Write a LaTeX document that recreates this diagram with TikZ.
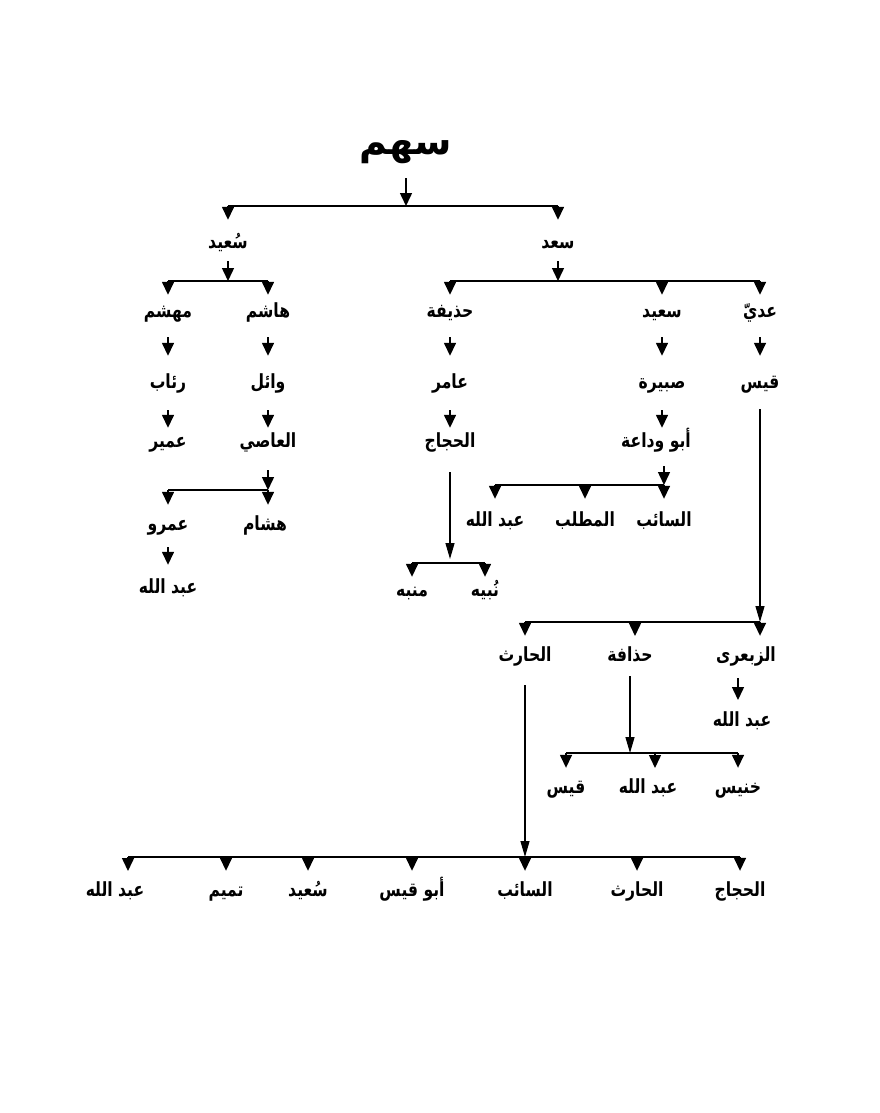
\documentclass[tikz,border=0pt]{standalone}
\usepackage{fontspec}
\usetikzlibrary{arrows.meta}
\TeXXeTstate=1
\newfontfamily\arfont[Script=Arabic,FakeStretch=0.8]{DejaVu Sans}
\newfontfamily\titlefont[Script=Arabic]{DejaVu Sans}
\newcommand\rtl[1]{\beginR#1\endR}
\begin{document}
\begin{tikzpicture}[x=1pt,y=-1pt,
 lab/.style={font=\arfont\bfseries\fontsize{19.5}{22}\selectfont, inner sep=0pt, text height=11pt, text depth=5pt},
 title/.style={font=\titlefont\bfseries\fontsize{38}{42}\selectfont, inner sep=0pt, text height=22pt, text depth=8pt},
 bar/.style={line width=1.9pt},
 tri/.style={line width=1.5pt, -{Triangle[width=12pt,length=13pt]}},
 longarr/.style={line width=1.2pt, -{Triangle[width=9pt,length=16pt]}},
]
\fill[white] (0,0) rectangle (879,1113);
\useasboundingbox (0,0) rectangle (879,1113);

% level 1
\node[title] (s0) at (406,147) {\rtl{سهم}};
\node[lab] (sa) at (228,245) {\rtl{سُعيد}};
\node[lab] (sb) at (558,245) {\rtl{سعد}};
\coordinate (yA) at (0,206);
\draw[bar] (sa.north |- yA) -- (sb.north |- yA);
\draw[tri, shorten <=16pt] (s0.south) -- (s0.south |- yA);
\draw[tri, shorten >=17pt] (sa.north |- yA) -- (sa.north);
\draw[tri, shorten >=17pt] (sb.north |- yA) -- (sb.north);

% level 3
\node[lab] (n1) at (168,314) {\rtl{مهشم}};
\node[lab] (n2) at (268,314) {\rtl{هاشم}};
\node[lab] (n3) at (450,314) {\rtl{حذيفة}};
\node[lab] (n4) at (662,314) {\rtl{سعيد}};
\node[lab] (n5) at (760,314) {\rtl{عديّ}};
\coordinate (yB) at (0,281);
\draw[bar] (n1.north |- yB) -- (n2.north |- yB);
\draw[bar] (n3.north |- yB) -- (n5.north |- yB);
\draw[tri, shorten <=8pt] (sa.south) -- (sa.south |- yB);
\draw[tri, shorten <=8pt] (sb.south) -- (sb.south |- yB);
\foreach \c in {n1,n2,n3,n4,n5}
  \draw[tri, shorten >=11pt] (\c.north |- yB) -- (\c.north);

% level 4
\node[lab] (m1) at (168,385) {\rtl{رئاب}};
\node[lab] (m2) at (268,385) {\rtl{وائل}};
\node[lab] (m3) at (450,385) {\rtl{عامر}};
\node[lab] (m4) at (662,385) {\rtl{صبيرة}};
\node[lab] (m5) at (760,385) {\rtl{قيس}};
\foreach \a/\b in {n1/m1,n2/m2,n3/m3,n4/m4,n5/m5}
  \draw[tri, shorten <=15pt, shorten >=21pt] (\a.south) -- (\b.north);

% level 5
\node[lab] (k1) at (168,444) {\rtl{عمير}};
\node[lab] (k2) at (268,444) {\rtl{العاصي}};
\node[lab] (k3) at (450,444) {\rtl{الحجاج}};
\node[lab] (k4) at (656,444) {\rtl{أبو وداعة}};
\foreach \a/\b in {m1/k1,m2/k2,m3/k3}
  \draw[tri, shorten <=17pt, shorten >=8pt] (\a.south) -- (\b.north);
\draw[tri, shorten <=17pt, shorten >=8pt] (m4.south) -- (m4.south |- k4.north);

% under al-Asi
\node[lab] (j1) at (168,527) {\rtl{عمرو}};
\node[lab] (j2) at (265,527) {\rtl{هشام}};
\node[lab] (j0) at (168,590) {\rtl{عبد الله}};
\coordinate (yC) at (0,490);
\draw[bar] (j1.north |- yC) -- (k2.south |- yC);
\draw[tri, shorten <=18pt] (k2.south) -- (k2.south |- yC);
\draw[tri, shorten >=14pt] (j1.north |- yC) -- (j1.north);
\draw[tri, shorten >=14pt] (k2.south |- yC) -- (k2.south |- j2.north);
\draw[tri, shorten <=12pt, shorten >=17pt] (j1.south) -- (j0.north);

% under Abu Wada'a
\node[lab] (d1) at (664,523) {\rtl{السائب}};
\node[lab] (d2) at (585,523) {\rtl{المطلب}};
\node[lab] (d3) at (495,523) {\rtl{عبد الله}};
\coordinate (yD) at (0,485);
\draw[bar] (d3.north |- yD) -- (d1.north |- yD);
\draw[tri, shorten <=14pt] (d1.north |- k4.south) -- (d1.north |- yD);
\foreach \c in {d1,d2,d3}
  \draw[tri, shorten >=16pt] (\c.north |- yD) -- (\c.north);

% under al-Hajjaj
\node[lab] (e1) at (412,593) {\rtl{منبه}};
\node[lab] (e2) at (485,593) {\rtl{نُبيه}};
\coordinate (yE) at (0,563);
\draw[bar] (e1.north |- yE) -- (e2.north |- yE);
\draw[longarr, shorten <=20pt, shorten >=4pt] (k3.south) -- (k3.south |- yE);
\foreach \c in {e1,e2}
  \draw[tri, shorten >=8pt] (\c.north |- yE) -- (\c.north);

% under Qays
\node[lab] (f1) at (525,658) {\rtl{الحارث}};
\node[lab] (f2) at (630,658) {\rtl{حذافة}};
\node[lab] (f3) at (746,658) {\rtl{الزبعرى}};
\coordinate (yF) at (0,622);
\draw[bar] (f1.north |- yF) -- (m5.south |- yF);
\draw[longarr, shorten <=16pt] (m5.south) -- (m5.south |- yF);
\draw[tri, shorten >=14pt] (f1.north |- yF) -- (f1.north);
\draw[tri, shorten >=14pt] (635,622) -- (635,650);
\draw[tri, shorten >=14pt] (m5.south |- yF) -- (m5.south |- f3.north);

\node[lab] (g0) at (742,723) {\rtl{عبد الله}};
\draw[tri, shorten <=12pt, shorten >=15pt] (738,666) -- (738,715);

% under Hudhafa
\node[lab] (g1) at (566,790) {\rtl{قيس}};
\node[lab] (g2) at (648,790) {\rtl{عبد الله}};
\node[lab] (g3) at (738,790) {\rtl{خنيس}};
\coordinate (yG) at (0,753);
\draw[bar] (g1.north |- yG) -- (g3.north |- yG);
\draw[longarr, shorten <=10pt] (f2.south) -- (f2.south |- yG);
\draw[tri, shorten >=14pt] (g1.north |- yG) -- (g1.north);
\draw[tri, shorten >=14pt] (655,753) -- (655,782);
\draw[tri, shorten >=14pt] (g3.north |- yG) -- (g3.north);

% under al-Harith
\node[lab] (h1) at (740,893) {\rtl{الحجاج}};
\node[lab] (h2) at (637,893) {\rtl{الحارث}};
\node[lab] (h3) at (525,893) {\rtl{السائب}};
\node[lab] (h4) at (412,893) {\rtl{أبو قيس}};
\node[lab] (h5) at (308,893) {\rtl{سُعيد}};
\node[lab] (h6) at (226,893) {\rtl{تميم}};
\node[lab] (h7) at (115,893) {\rtl{عبد الله}};
\coordinate (yH) at (0,857);
\draw[bar] (128,857) -- (h1.north |- yH);
\draw[longarr, shorten <=19pt] (f1.south) -- (f1.south |- yH);
\foreach \c in {h1,h2,h3,h4,h5,h6}
  \draw[tri, shorten >=14pt] (\c.north |- yH) -- (\c.north);
\draw[tri, shorten >=14pt] (128,857) -- (128,885);
\end{tikzpicture}
\end{document}
